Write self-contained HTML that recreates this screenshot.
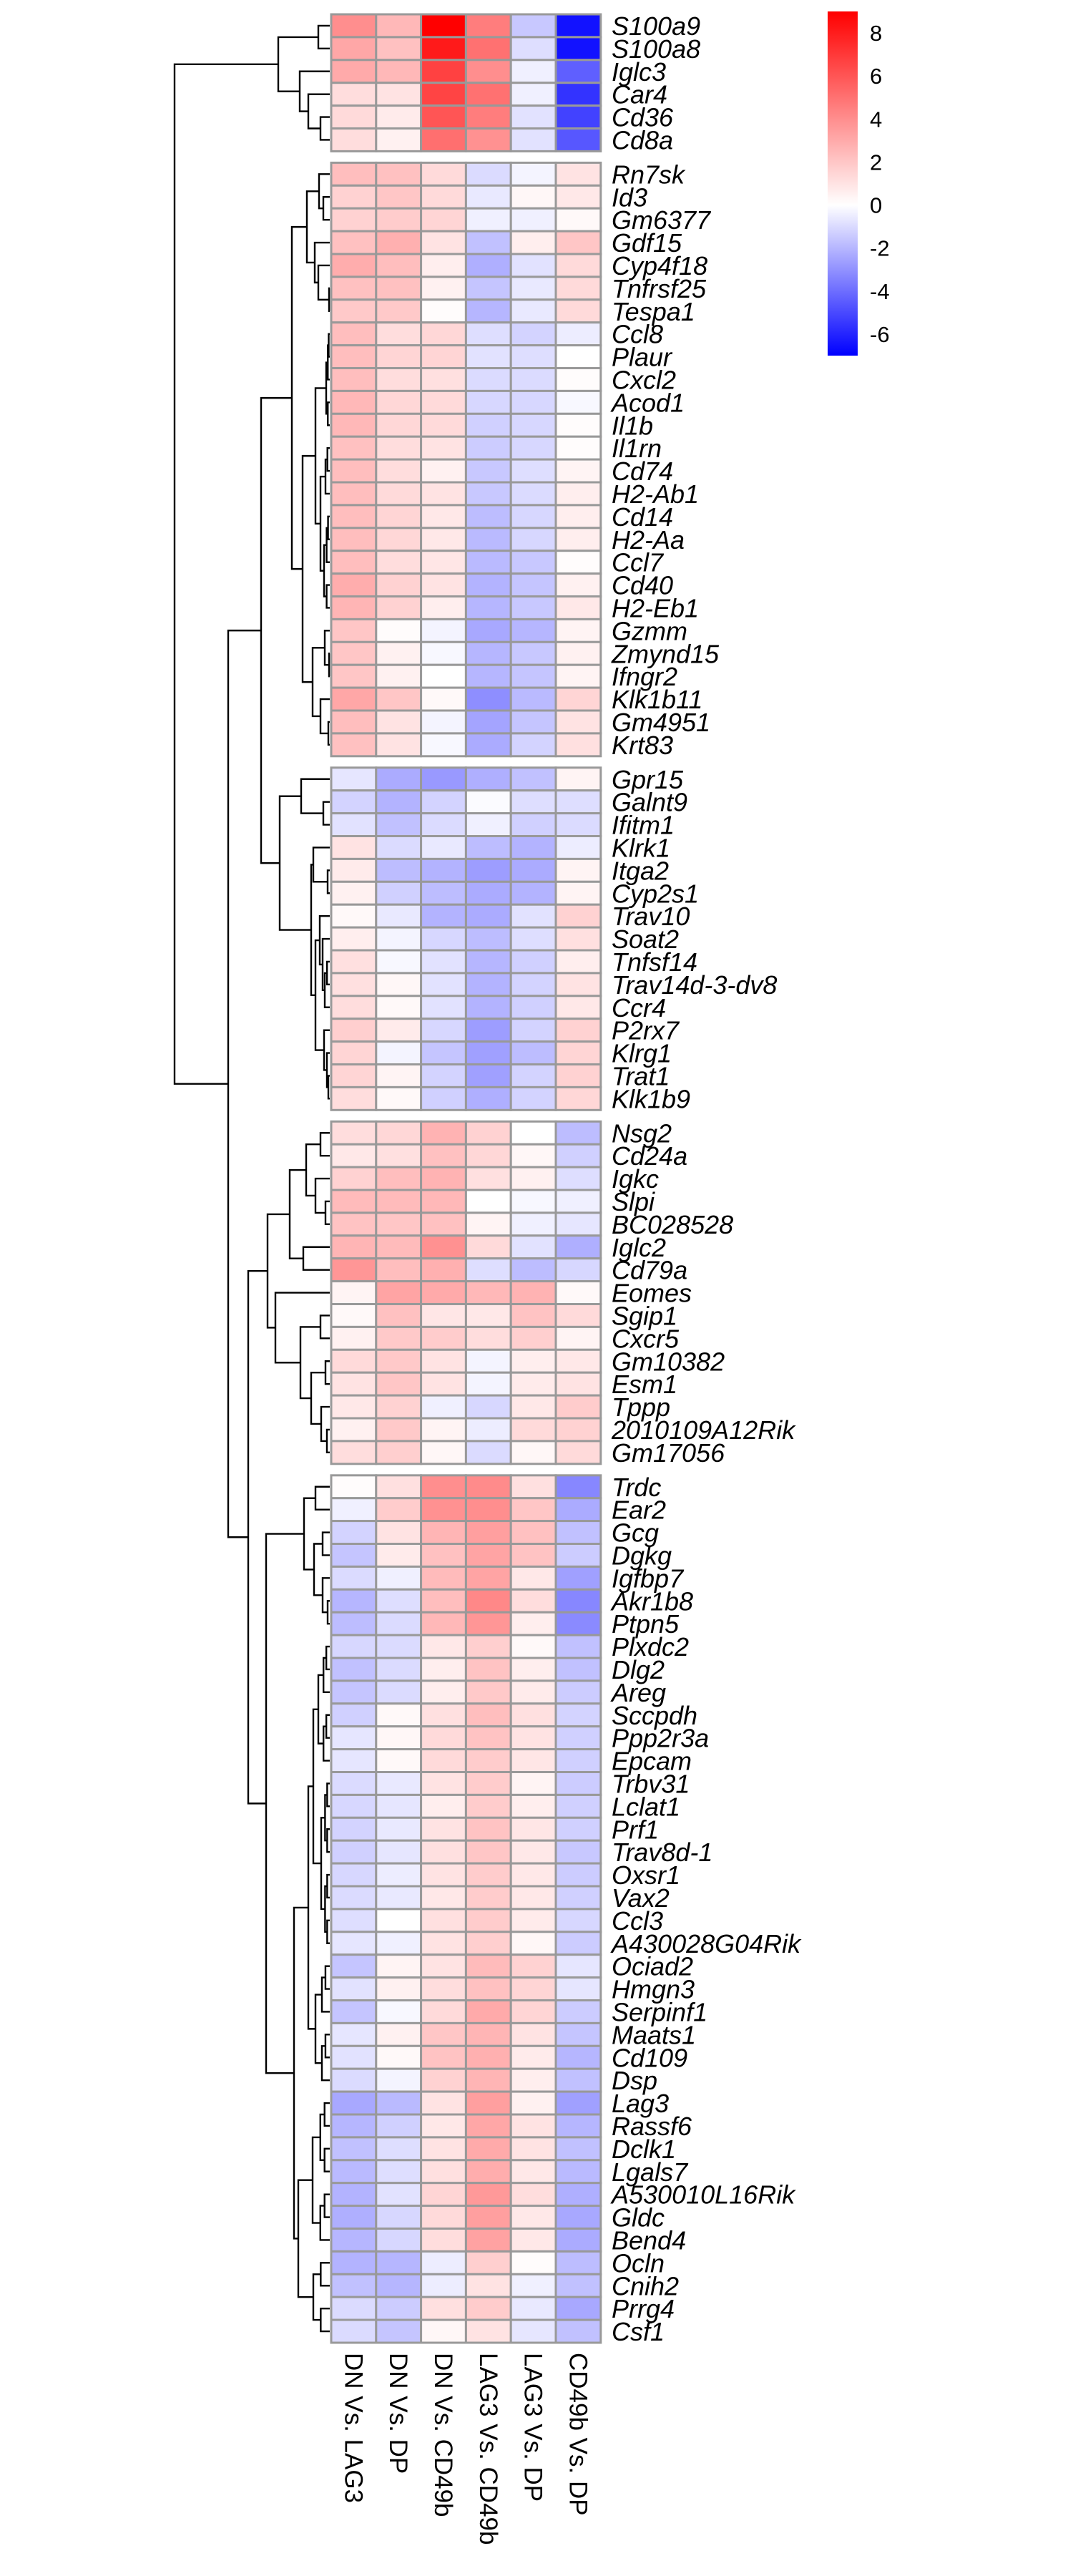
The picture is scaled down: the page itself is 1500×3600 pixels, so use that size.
<!DOCTYPE html>
<html><head><meta charset="utf-8">
<style>
html,body{margin:0;padding:0;background:#fff;}
svg{display:block;}
.rl{font-family:"Liberation Sans",Arial,sans-serif;font-style:italic;font-size:36px;fill:#000;}
.cl{font-family:"Liberation Sans",Arial,sans-serif;font-size:35px;fill:#000;}
.tk{font-family:"Liberation Sans",Arial,sans-serif;font-size:31px;fill:#000;}
</style></head>
<body>
<svg id="chart" width="1500" height="3600" viewBox="0 0 1500 3600" xmlns="http://www.w3.org/2000/svg">
<defs>
<linearGradient id="cbg" x1="0" y1="0" x2="0" y2="1">
<stop offset="0" stop-color="#ff0000"/>
<stop offset="0.5625" stop-color="#ffffff"/>
<stop offset="1" stop-color="#0000ff"/>
</linearGradient>
</defs>
<g id="dendro"></g>
<g id="cells"></g>
<g id="rowlabels"></g>
<g id="collabels"></g>
<g id="legend"></g>
</svg>
<script>
const columns = ["DN Vs. LAG3","DN Vs. DP","DN Vs. CD49b","LAG3 Vs. CD49b","LAG3 Vs. DP","CD49b Vs. DP"];
const genes = ["S100a9","S100a8","Iglc3","Car4","Cd36","Cd8a",
"Rn7sk","Id3","Gm6377","Gdf15","Cyp4f18","Tnfrsf25","Tespa1","Ccl8","Plaur","Cxcl2","Acod1","Il1b","Il1rn","Cd74","H2-Ab1","Cd14","H2-Aa","Ccl7","Cd40","H2-Eb1","Gzmm","Zmynd15","Ifngr2","Klk1b11","Gm4951","Krt83",
"Gpr15","Galnt9","Ifitm1","Klrk1","Itga2","Cyp2s1","Trav10","Soat2","Tnfsf14","Trav14d-3-dv8","Ccr4","P2rx7","Klrg1","Trat1","Klk1b9",
"Nsg2","Cd24a","Igkc","Slpi","BC028528","Iglc2","Cd79a","Eomes","Sgip1","Cxcr5","Gm10382","Esm1","Tppp","2010109A12Rik","Gm17056",
"Trdc","Ear2","Gcg","Dgkg","Igfbp7","Akr1b8","Ptpn5","Plxdc2","Dlg2","Areg","Sccpdh","Ppp2r3a","Epcam","Trbv31","Lclat1","Prf1","Trav8d-1","Oxsr1","Vax2","Ccl3","A430028G04Rik","Ociad2","Hmgn3","Serpinf1","Maats1","Cd109","Dsp","Lag3","Rassf6","Dclk1","Lgals7","A530010L16Rik","Gldc","Bend4","Ocln","Cnih2","Prrg4","Csf1"];
const groupSizes = [6,26,15,15,38];
const values = [
[4.0,2.5,9.0,4.6,-1.5,-6.5],[3.1,2.2,8.1,5.0,-0.9,-6.5],[3.0,2.5,6.7,4.0,-0.4,-4.4],[1.2,1.0,6.6,5.0,-0.4,-5.6],[1.3,0.7,6.0,4.6,-0.8,-5.2],[1.2,0.5,5.1,3.9,-0.8,-4.6],
[2.3,2.2,1.3,-1.0,-0.3,1.0],[1.6,2.0,1.3,-0.6,0.3,0.8],[1.6,1.8,1.5,-0.4,-0.4,0.2],[2.2,2.8,1.0,-1.7,0.6,2.0],[2.9,2.3,0.6,-2.2,-0.8,1.3],[2.2,2.2,0.5,-1.6,-0.6,1.3],[1.9,1.9,0.1,-2.0,-0.6,1.3],
[2.3,1.2,1.4,-0.9,-1.2,-0.5],[2.3,1.5,1.5,-0.8,-0.9,0.0],[2.3,1.2,1.1,-1.0,-1.0,0.1],[2.5,1.4,1.3,-1.1,-1.1,-0.2],[2.5,1.4,1.3,-1.3,-1.1,0.1],[2.2,1.2,1.0,-1.4,-1.1,0.1],
[2.3,1.2,0.5,-1.5,-0.9,0.4],[2.3,1.3,1.0,-1.5,-1.0,0.6],[2.3,1.5,0.8,-1.8,-1.1,0.6],[2.3,1.4,0.8,-1.9,-1.1,0.6],[2.3,1.2,0.9,-1.9,-1.5,0.1],[2.9,1.6,1.0,-2.1,-1.6,0.5],[2.6,1.6,0.6,-2.0,-1.5,0.8],
[2.0,0.1,-0.3,-2.4,-2.0,0.4],[2.0,0.5,-0.2,-2.0,-1.5,0.5],[2.0,0.5,0.0,-2.0,-1.6,0.4],[3.1,2.0,0.2,-3.1,-1.9,1.5],[2.3,1.0,-0.3,-2.5,-1.6,1.0],[2.2,1.0,-0.2,-2.3,-1.2,1.1],
[-0.7,-2.3,-2.8,-2.2,-1.7,0.4],[-1.2,-2.1,-1.2,-0.1,-0.9,-0.9],[-0.8,-1.7,-1.0,-0.4,-1.3,-1.0],[1.0,-1.0,-0.6,-1.8,-2.1,-0.5],[0.7,-1.8,-2.1,-2.7,-2.3,0.4],[0.5,-1.3,-1.8,-2.3,-2.1,0.4],
[0.2,-0.6,-2.1,-2.3,-0.8,1.6],[0.6,-0.3,-1.1,-1.8,-0.9,1.1],[1.1,-0.2,-0.8,-2.0,-1.3,0.6],[1.1,0.3,-0.8,-2.1,-1.2,1.0],[1.2,0.2,-0.8,-2.1,-1.3,0.8],[1.7,0.7,-1.1,-2.7,-1.2,1.6],
[1.5,-0.3,-1.6,-2.6,-1.8,1.5],[1.5,0.4,-1.2,-2.6,-1.2,1.6],[1.2,0.2,-1.3,-2.2,-1.2,1.4],
[1.2,1.4,2.7,1.6,0.0,-1.8],[0.8,1.1,2.2,1.4,0.3,-1.3],[1.6,2.3,2.7,1.1,0.5,-0.9],[2.4,2.4,2.5,0.0,-0.2,-0.4],[2.1,2.0,2.2,0.4,-0.4,-0.7],[2.6,2.4,3.9,1.3,-0.8,-2.2],[3.7,2.3,2.8,-0.9,-1.8,-1.1],
[0.4,3.2,3.0,2.5,2.7,0.2],[0.2,2.2,0.9,0.8,2.1,1.3],[0.5,1.9,1.8,1.2,1.7,0.4],[1.3,1.9,1.0,-0.3,0.6,0.8],[1.0,2.0,1.0,-0.3,0.7,1.0],[0.8,1.6,-0.4,-1.1,0.8,1.8],[0.5,1.9,0.4,-0.5,1.3,1.6],[1.2,1.7,0.3,-1.0,0.3,1.3],
[0.1,1.1,4.0,4.1,1.1,-3.3],[-0.4,1.8,3.9,4.0,2.0,-2.3],[-1.2,1.0,2.6,3.4,2.2,-1.7],[-1.6,0.7,2.2,3.2,2.1,-1.4],[-1.0,-0.4,2.4,3.2,0.8,-2.6],[-2.0,-0.9,2.3,4.2,1.2,-3.3],[-1.8,-1.0,2.5,3.7,0.6,-3.2],
[-1.1,-1.0,0.8,1.7,0.2,-1.7],[-1.7,-1.0,0.6,2.1,0.6,-1.7],[-1.6,-1.0,0.6,1.9,0.7,-1.4],[-1.3,0.2,1.1,2.3,1.1,-1.2],[-0.7,0.3,1.3,2.1,1.0,-1.3],[-0.7,0.2,1.3,1.8,0.9,-1.3],
[-1.0,-0.6,1.0,1.8,0.4,-1.4],[-1.1,-0.7,0.6,1.8,0.6,-1.3],[-1.2,-0.6,1.0,2.1,0.9,-1.3],[-1.3,-0.7,1.1,2.0,0.8,-1.5],[-1.1,-0.5,1.0,1.8,0.8,-1.4],[-1.0,-0.6,0.8,1.8,0.8,-1.3],[-0.9,0.0,1.1,1.8,0.7,-1.1],[-0.7,-0.4,1.0,1.7,0.3,-1.4],
[-1.6,0.4,1.0,2.4,1.6,-0.7],[-0.8,0.5,1.2,2.2,1.5,-0.7],[-1.6,-0.2,1.3,3.0,1.5,-1.4],[-0.7,0.5,2.0,2.6,1.0,-1.6],[-0.8,0.2,2.1,2.8,0.7,-2.0],[-1.0,-0.3,1.6,2.6,0.6,-1.7],
[-2.4,-1.9,1.0,3.4,0.5,-2.6],[-2.0,-1.3,0.8,3.1,1.0,-2.0],[-1.7,-0.9,1.0,3.0,1.0,-1.7],[-1.9,-0.9,1.1,2.9,0.8,-1.9],[-2.1,-0.8,1.5,3.6,1.2,-2.2],[-2.2,-1.1,1.3,3.4,0.8,-2.4],[-2.0,-1.1,1.2,3.3,0.8,-2.3],
[-2.1,-2.0,-0.5,1.7,0.1,-1.8],[-1.7,-2.0,-0.5,1.0,-0.4,-1.7],[-1.0,-1.4,1.1,1.8,-0.6,-2.4],[-1.0,-1.6,0.3,1.0,-0.7,-1.7]
];
const legendTicks = [8,6,4,2,0,-2,-4,-6];
const legendMax = 9, legendMin = -7;

function L(a,b,h){ if(a===b) return a; const m=Math.floor((a+b)/2); return [L(a,m,h*0.55),L(m+1,b,h*0.55),h]; }
const tree = [
  [[0,1,16],[2,[3,[4,5,13],30],42],72],
  [
    [
      [[[6,[7,8,9],15],[9,[10,[11,12,1],16],21],32],[[L(13,17,5),[L(18,20,6),L(21,25,8),13],20],[[26,[27,28,1],7],[29,[30,31,2],13],24],38],53],
      [[32,[33,34,9],40],[[35,[36,37,3],23],[[38,[39,L(40,42,7),10],14],[43,[44,[45,46,2],4],8],20],26],70],
      96],
    [
      [[[[47,48,13],[49,[50,51,6],20],33],[52,53,37],56],[54,[[55,56,13],[[57,58,6],[59,[60,61,4],12],26],41],76],87],
      [[[62,63,20],[[64,65,10],[66,[67,68,3],10],22],36],[[[L(69,74,16),L(75,82,12),23],L(83,88,20),30],[L(89,95,24),L(96,99,23),44],50],89],
      114],
    142],
  217];

const NS="http://www.w3.org/2000/svg";
const X0=463, cellW=62.8, rowH=31.9, gap=16, TOP=20;
function xCol(j){return X0+j*cellW;}
const rowTop=[]; {let y=TOP,k=0; groupSizes.forEach((n,g)=>{for(let i=0;i<n;i++){rowTop[k++]=y; y+=rowH;} y+=gap;});}
function yRow(i){return rowTop[i]+rowH/2;}
function color(v){
  if(v>=0){const t=Math.min(v/legendMax,1);const c=Math.round(255*(1-t));return `rgb(255,${c},${c})`;}
  const t=Math.min(-v/(-legendMin),1);const c=Math.round(255*(1-t));return `rgb(${c},${c},255)`;
}
function mk(tag,attrs,parent){const e=document.createElementNS(NS,tag);for(const k in attrs)e.setAttribute(k,attrs[k]);parent.appendChild(e);return e;}

const gc=document.getElementById('cells');
values.forEach((row,i)=>{row.forEach((v,j)=>{
  const r=mk('rect',{x:xCol(j),y:rowTop[i],width:cellW,height:rowH,fill:color(v),stroke:'#999',"stroke-width":3},gc);
  
  
});});

const gr=document.getElementById('rowlabels');
genes.forEach((g,i)=>{
  const t=mk('text',{x:855,y:yRow(i)+13,class:'rl'},gr);
  t.textContent=g;
  
  
});

const gcl=document.getElementById('collabels');
columns.forEach((c,j)=>{
  const cx=xCol(j)+cellW/2;
  const t=mk('text',{transform:`translate(${cx-12},3288) rotate(90)`,class:'cl'},gcl);
  t.textContent=c;
  
  
});

const gd=document.getElementById('dendro');
function hx(h){return X0-2-h;}
function draw(n){
  if(typeof n==='number') return {y:yRow(n),x:X0-2};
  const a=draw(n[0]), b=draw(n[1]); const x=hx(n[2]);
  const p=mk('path',{d:`M${a.x},${a.y}H${x}V${b.y}H${b.x}`,fill:'none',stroke:'#000',"stroke-width":2.4},gd);
  
  
  return {x:x,y:(a.y+b.y)/2};
}
draw(tree);

const gl=document.getElementById('legend');
const lyTop=16, lyBot=497;
function yLeg(v){return lyTop+(legendMax-v)/(legendMax-legendMin)*(lyBot-lyTop);}
const bar=mk('rect',{x:1157,y:lyTop,width:42,height:lyBot-lyTop,fill:'url(#cbg)'},gl);


legendTicks.forEach(v=>{
  const t=mk('text',{x:1216,y:yLeg(v)+11,class:'tk'},gl);
  t.textContent=String(v);
  
  
});
</script>
</body></html>
